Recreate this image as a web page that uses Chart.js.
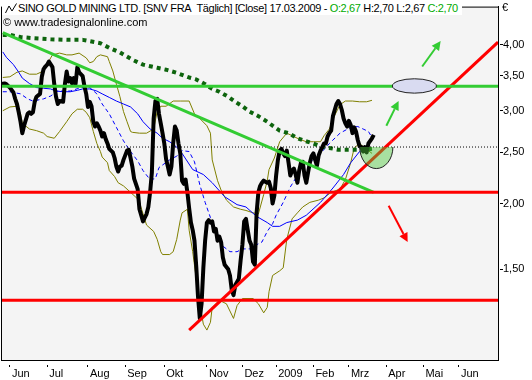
<!DOCTYPE html>
<html><head><meta charset="utf-8">
<script src="https://cdn.jsdelivr.net/npm/chart.js@4.4.1/dist/chart.umd.min.js"></script>
<style>
html,body{margin:0;padding:0;background:#fff;}
#wrap{position:relative;width:532px;height:380px;overflow:hidden;}
canvas{position:absolute;left:0;top:0;}
.t{position:absolute;font-family:"Liberation Sans",Arial,sans-serif;font-size:11px;line-height:13px;color:#000;white-space:pre;}
.g{color:#00aa00;}
</style></head><body>
<div id="wrap">
<canvas id="c" width="532" height="380"></canvas>
<div class="t" id="title" style="left:2px;top:2px;background:#fff;padding:0 4px 0 16px;letter-spacing:-0.35px;"><svg width="12" height="11" style="position:absolute;left:3px;top:1px" viewBox="0 0 12 11"><polyline points="0.5,10 4,3 7,8 11.5,0.5" fill="none" stroke="#000" stroke-width="1"/></svg>SINO GOLD MINING LTD. [SNV FRA&nbsp; Täglich] [Close] 17.03.2009 - <span class="g">O:2,67</span> H:2,70 L:2,67 <span class="g">C:2,70</span></div>
<div class="t" id="copy" style="left:3px;top:16px;">© www.tradesignalonline.com</div>
<div class="t" id="cur" style="left:502px;top:1px;">€</div>
</div>
<script>
// x values are trading days counted from the first trading day of June 2008
const monthLabels = ['Jun','Jul','Aug','Sep','Okt','Nov','Dez','2009','Feb','Mrz','Apr','Mai','Jun'];
const monthStartDays = [0,21,44,65,87,111,131,150,171,191,212,233,253];
const priceTicks = [1.5,2,2.5,3,3.5,4];

// daily close (day, price)
const closeSeries = [[-5,3.37],[-3,3.38],[-2,3.37],[0,3.32],[2,3.25],[3,3.16],[4,3.09],[5,2.98],[6,2.86],[7,2.72],[8,2.81],[10,2.96],[11,2.98],[12,2.96],[13,2.98],[14,3.12],[15,3.19],[17,3.23],[18,3.48],[19,3.60],[20,3.64],[21,3.67],[22,3.72],[24,3.63],[25,3.37],[26,3.19],[27,3.09],[28,3.13],[30,3.12],[31,3.37],[32,3.56],[33,3.41],[34,3.46],[35,3.38],[36,3.46],[37,3.37],[38,3.63],[39,3.55],[41,3.49],[42,3.34],[43,3.23],[44,3.05],[45,3.12],[46,3.06],[47,2.86],[48,2.80],[49,2.84],[50,2.80],[51,2.75],[52,2.68],[53,2.72],[54,2.65],[55,2.60],[56,2.54],[58,2.50],[59,2.44],[60,2.35],[61,2.30],[62,2.35],[63,2.36],[64,2.42],[66,2.52],[67,2.53],[68,2.44],[69,2.35],[70,2.23],[72,2.13],[73,1.95],[75,1.85],[76,1.88],[77,1.91],[78,1.97],[79,2.10],[80,2.29],[81,2.90],[82,3.13],[83,3.16],[84,2.96],[85,2.84],[86,2.72],[87,2.60],[88,2.43],[89,2.35],[90,2.27],[91,2.35],[92,2.60],[93,2.80],[94,2.75],[95,2.60],[96,2.49],[97,2.21],[98,2.18],[99,2.22],[100,2.10],[101,1.96],[102,1.84],[103,1.78],[104,1.70],[105,1.52],[106,1.33],[107,1.21],[108,1.29],[109,1.51],[110,1.70],[111,1.84],[112,1.86],[113,1.84],[114,1.85],[115,1.77],[116,1.79],[117,1.70],[118,1.73],[119,1.69],[120,1.58],[121,1.53],[123,1.50],[124,1.46],[125,1.37],[126,1.34],[127,1.40],[128,1.42],[129,1.44],[130,1.56],[131,1.67],[132,1.85],[133,1.87],[134,1.78],[135,1.70],[136,1.67],[137,1.55],[138,1.53],[139,1.92],[140,2.10],[141,2.16],[142,2.19],[143,2.21],[145,2.19],[146,2.20],[147,2.14],[148,2.00],[149,2.07],[150,2.26],[151,2.42],[152,2.52],[153,2.54],[154,2.49],[155,2.46],[156,2.52],[157,2.39],[158,2.26],[159,2.31],[160,2.33],[161,2.27],[162,2.19],[163,2.31],[164,2.39],[165,2.40],[166,2.26],[167,2.19],[168,2.29],[169,2.39],[170,2.46],[171,2.49],[172,2.42],[173,2.36],[174,2.47],[175,2.52],[176,2.56],[177,2.60],[178,2.60],[179,2.68],[180,2.72],[181,2.75],[182,2.93],[183,3.01],[184,3.09],[185,3.13],[186,3.09],[187,3.01],[188,2.90],[189,2.84],[190,2.80],[191,2.87],[192,2.82],[193,2.72],[194,2.79],[195,2.74],[196,2.64],[197,2.57],[198,2.56],[199,2.51],[200,2.56],[201,2.50],[202,2.60],[203,2.63],[204,2.66],[205,2.70]];

// short moving average (blue dashed)
const maShort = [[-4,3.26],[0,3.26],[6,3.23],[10,3.16],[13,3.13],[19,3.16],[23,3.20],[27,3.27],[34,3.27],[40,3.32],[45,3.32],[49,3.23],[52,3.09],[56,2.96],[60,2.79],[64,2.63],[68,2.51],[72,2.41],[75,2.31],[79,2.22],[82,2.23],[84,2.34],[90,2.42],[94,2.46],[97,2.52],[101,2.51],[104,2.40],[107,2.17],[110,2.01],[113,1.88],[117,1.75],[120,1.66],[124,1.62],[128,1.62],[131,1.64],[135,1.64],[139,1.67],[142,1.69],[145,1.77],[148,1.83],[150,1.90],[154,2.01],[158,2.15],[163,2.29],[169,2.39],[175,2.49],[180,2.60],[186,2.72],[192,2.79],[196,2.80],[199,2.77],[202,2.74],[204,2.67]];

// medium moving average (blue solid)
const maMid = [[-4,3.88],[-2,3.79],[2,3.67],[5,3.55],[7,3.46],[11,3.38],[15,3.32],[19,3.31],[23,3.30],[26,3.27],[30,3.26],[34,3.26],[38,3.28],[41,3.30],[45,3.30],[49,3.27],[52,3.23],[56,3.18],[60,3.13],[64,3.09],[68,3.05],[72,2.96],[75,2.86],[79,2.77],[83,2.72],[86,2.66],[90,2.62],[94,2.56],[97,2.49],[103,2.32],[109,2.27],[114,2.19],[121,2.06],[128,1.99],[133,1.97],[139,1.89],[145,1.84],[148,1.81],[152,1.81],[156,1.84],[162,1.86],[167,1.90],[175,2.01],[182,2.14],[188,2.27],[192,2.39],[197,2.51],[203,2.55]];

// long moving average (dark green dotted)
const maLong = [[-4,4.18],[0,4.18],[6,4.14],[13,4.12],[23,4.10],[32,4.09],[41,4.09],[51,4.03],[56,3.95],[62,3.87],[69,3.75],[75,3.67],[83,3.62],[88,3.59],[94,3.54],[101,3.47],[105,3.44],[110,3.37],[114,3.30],[118,3.26],[123,3.19],[127,3.12],[131,3.06],[135,2.99],[140,2.93],[145,2.86],[148,2.81],[152,2.75],[157,2.72],[162,2.66],[166,2.63],[171,2.60],[176,2.56],[180,2.55],[185,2.53],[190,2.53],[194,2.53],[199,2.53],[204,2.54]];

// bollinger bands (olive)
const bandUpper = [[-4,3.47],[0,3.48],[4,3.55],[7,3.57],[11,3.52],[15,3.52],[19,3.57],[23,3.78],[24,3.83],[28,3.86],[32,3.83],[35,3.83],[39,3.86],[43,3.78],[45,3.70],[47,3.72],[49,3.80],[51,3.83],[55,3.80],[56,3.72],[58,3.57],[60,3.37],[62,3.19],[64,2.99],[66,2.86],[68,2.74],[69,2.73],[73,2.72],[77,2.72],[81,2.77],[83,2.99],[85,3.06],[88,3.06],[92,3.13],[96,3.13],[101,3.13],[104,2.96],[107,2.90],[111,2.81],[113,2.72],[114,2.42],[117,2.21],[119,2.12],[122,2.03],[126,1.97],[130,1.95],[133,1.94],[137,1.92],[140,1.91],[143,2.08],[145,2.21],[146,2.32],[149,2.44],[152,2.62],[156,2.72],[159,2.69],[163,2.65],[167,2.62],[171,2.62],[175,2.62],[177,2.69],[180,2.77],[183,2.94],[186,3.08],[189,3.13],[193,3.13],[197,3.12],[201,3.12],[204,3.14]];
const bandLower = [[-4,3.00],[0,3.05],[4,3.06],[6,2.96],[7,2.84],[11,2.77],[15,2.75],[19,2.72],[21,2.68],[25,2.66],[28,2.74],[32,2.86],[35,2.96],[38,3.02],[41,3.02],[43,2.98],[45,2.91],[47,2.74],[49,2.60],[51,2.51],[52,2.45],[55,2.39],[56,2.31],[59,2.25],[61,2.19],[64,2.16],[68,2.10],[72,2.04],[73,2.01],[77,1.82],[81,1.77],[83,1.71],[85,1.62],[86,1.60],[90,1.60],[92,1.62],[94,1.71],[96,1.86],[97,1.92],[100,1.95],[101,1.78],[103,1.62],[105,1.44],[107,1.29],[109,1.18],[111,1.15],[113,1.19],[114,1.27],[118,1.31],[122,1.29],[126,1.21],[128,1.28],[131,1.32],[137,1.32],[140,1.29],[143,1.24],[145,1.27],[146,1.36],[148,1.46],[152,1.49],[154,1.51],[156,1.71],[159,1.87],[162,1.92],[165,1.97],[169,2.01],[174,2.03],[177,2.05],[181,2.10],[186,2.13],[189,2.22],[192,2.39],[194,2.55],[197,2.60],[200,2.55],[204,2.49]];

// drawn analysis objects
const fullSpan = [-5, 275];
const resistanceLevel = 3.34;          // green horizontal
const supportLevels = [2.10, 1.31];     // red horizontals
const lastLevel = 2.56;                 // black dotted
const downTrend = [[-4,4.22],[205,2.10]];
const upTrend = [[101,1.15],[275,4.05]];
const targetEllipse = [215.5, 240.3, 3.24, 3.45];  // day from, day to, price low, price high
const bowlShape = [197.1, 215.8, 2.56, 2.33];       // day from, day to, rim price, bottom price
const upArrows = [[212.1,2.81,219.0,3.13],[232.3,3.64,242.7,4.07]];
const downArrows = [[213.4,1.98,224.1,1.69]];

const toPts = arr => arr.map(p => ({x:p[0], y:p[1]}));
const hLine = v => [{x:fullSpan[0], y:v},{x:fullSpan[1], y:v}];

function drawArrow(ctx, x1, y1, x2, y2, color){
  const a = Math.atan2(y2-y1, x2-x1), L = 9, W = 4.5;
  const bx = x2 - L*Math.cos(a), by = y2 - L*Math.sin(a);
  ctx.strokeStyle = color; ctx.lineWidth = 2;
  ctx.beginPath(); ctx.moveTo(x1,y1); ctx.lineTo(bx,by); ctx.stroke();
  ctx.fillStyle = color;
  ctx.beginPath(); ctx.moveTo(x2,y2);
  ctx.lineTo(bx + W*Math.sin(a), by - W*Math.cos(a));
  ctx.lineTo(bx - W*Math.sin(a), by + W*Math.cos(a));
  ctx.closePath(); ctx.fill();
}

const overlay = {
  id:'overlay',
  beforeDraw(chart){
    const {ctx, chartArea:a} = chart;
    ctx.save(); ctx.fillStyle = '#f4f4f4';
    ctx.fillRect(a.left, a.top, a.right-a.left, a.bottom-a.top);
    ctx.restore();
  },
  afterDatasetsDraw(chart){
    const {ctx, chartArea:a, scales:{x, y}} = chart;
    ctx.save();
    ctx.beginPath(); ctx.rect(a.left, a.top, a.right-a.left, a.bottom-a.top); ctx.clip();
    {
      const x1 = x.getPixelForValue(bowlShape[0]), x2 = x.getPixelForValue(bowlShape[1]);
      const yt = y.getPixelForValue(bowlShape[2]), yb = y.getPixelForValue(bowlShape[3]);
      ctx.beginPath();
      ctx.ellipse((x1+x2)/2, yt, (x2-x1)/2, yb-yt, 0, 0, Math.PI);
      ctx.closePath();
      ctx.fillStyle = 'rgba(75,200,57,0.45)'; ctx.fill();
      ctx.beginPath();
      ctx.ellipse((x1+x2)/2, yt, (x2-x1)/2, yb-yt, 0, 0, Math.PI);
      ctx.strokeStyle = '#222'; ctx.lineWidth = 1; ctx.stroke();
    }
    {
      const x1 = x.getPixelForValue(targetEllipse[0]), x2 = x.getPixelForValue(targetEllipse[1]);
      const y1 = y.getPixelForValue(targetEllipse[3]), y2 = y.getPixelForValue(targetEllipse[2]);
      ctx.beginPath();
      ctx.ellipse((x1+x2)/2, (y1+y2)/2, (x2-x1)/2, (y2-y1)/2, 0, 0, Math.PI*2);
      ctx.fillStyle = '#d9dbf1'; ctx.fill();
      ctx.strokeStyle = '#222'; ctx.lineWidth = 1; ctx.stroke();
    }
    upArrows.forEach(r => drawArrow(ctx, x.getPixelForValue(r[0]), y.getPixelForValue(r[1]), x.getPixelForValue(r[2]), y.getPixelForValue(r[3]), '#33cc33'));
    downArrows.forEach(r => drawArrow(ctx, x.getPixelForValue(r[0]), y.getPixelForValue(r[1]), x.getPixelForValue(r[2]), y.getPixelForValue(r[3]), '#ff0000'));
    ctx.restore();
  },
  afterDraw(chart){
    const {ctx, chartArea:a} = chart;
    ctx.save(); ctx.strokeStyle = '#000'; ctx.lineWidth = 1;
    ctx.strokeRect(a.left+0.5, a.top+0.5, a.right-a.left, a.bottom-a.top);
    ctx.restore();
  }
};

Chart.defaults.font.family = '"Liberation Sans", Arial, sans-serif';
Chart.defaults.font.size = 11;
Chart.defaults.color = '#000';

const ds = (data, color, width, dash, order) => ({data, borderColor:color, borderWidth:width, borderDash:dash||[], order, pointRadius:0, fill:false, tension:0});

new Chart(document.getElementById('c').getContext('2d'), {
  type:'line',
  data:{datasets:[
    ds(hLine(resistanceLevel), '#33cc33', 3, null, 1),
    ds(hLine(supportLevels[0]), '#ff0000', 3, null, 1),
    ds(hLine(supportLevels[1]), '#ff0000', 3, null, 1),
    ds(toPts(downTrend), '#33cc33', 3, null, 1),
    ds(toPts(upTrend), '#ff0000', 3, null, 1),
    ds(hLine(lastLevel), '#000000', 1, [1,2], 2),
    ds(toPts(closeSeries), '#000000', 4, null, 3),
    ds(toPts(maLong), '#0d640d', 4, [4,4], 4),
    ds(toPts(maShort), '#0000ff', 1, [4,3], 5),
    ds(toPts(maMid), '#0000ff', 1, null, 6),
    ds(toPts(bandUpper), '#808000', 1, null, 7),
    ds(toPts(bandLower), '#808000', 1, null, 7)
  ]},
  options:{
    responsive:false, animation:false, devicePixelRatio:1,
    layout:{padding:{left:1, top:1, right:0, bottom:0}},
    plugins:{legend:{display:false}, tooltip:{enabled:false}},
    elements:{line:{borderJoinStyle:'round'}},
    scales:{
      x:{type:'linear', position:'bottom', min:fullSpan[0], max:fullSpan[1],
        afterBuildTicks: s => { s.ticks = monthStartDays.map(v => ({value:v})); },
        afterFit: s => { s.height = 20; },
        ticks:{autoSkip:false, maxRotation:0, minRotation:0, align:'start', labelOffset:2, padding:0, color:'#000',
          callback:(v,i) => monthLabels[i]},
        grid:{drawOnChartArea:false, drawTicks:true, tickLength:7, tickColor:'#000', tickWidth:1, tickBorderDash:[0,4,3,30]},
        border:{display:true, color:'#000', width:1}
      },
      y:{type:'logarithmic', position:'right', min:1.009, max:4.73,
        afterBuildTicks: s => { s.ticks = priceTicks.map(v => ({value:v})); },
        afterFit: s => { s.width = 34; },
        ticks:{padding:0, color:'#000', callback: v => Number(v).toFixed(2).replace('.', ',')},
        grid:{drawOnChartArea:false, drawTicks:true, tickLength:5, tickColor:'#000', tickWidth:1, tickBorderDash:[0,1,4,30]},
        border:{display:true, color:'#000', width:1}
      }
    }
  },
  plugins:[overlay]
});
</script>
</body></html>
